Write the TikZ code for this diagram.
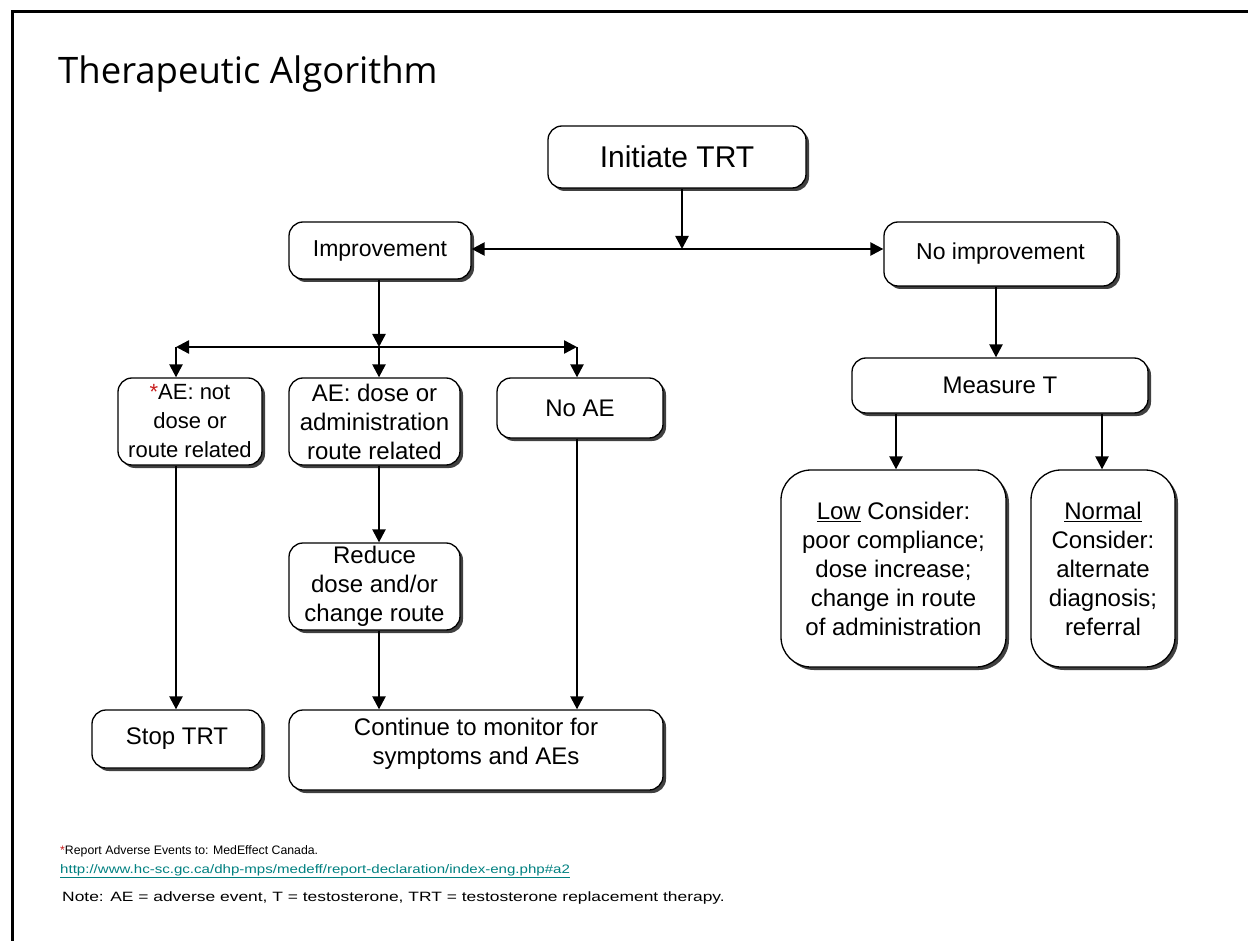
\documentclass[tikz,border=0pt]{standalone}
\usepackage{fontspec}
\setmainfont{Liberation Sans}
\newfontfamily\titlefont{Open Sans}
\usetikzlibrary{arrows.meta,shadows}
\definecolor{urlteal}{RGB}{0,128,128}
\definecolor{astred}{RGB}{200,30,30}
\begin{document}
\begin{tikzpicture}[x=1pt,y=-1pt,
  box/.style={draw, rounded corners=14pt, fill=white, line width=1.3pt,
    drop shadow={shadow xshift=3pt, shadow yshift=-3pt, fill=black, opacity=0.75},
    align=center, inner sep=0pt, font=\fontsize{24}{29}\selectfont},
  bigbox/.style={box, rounded corners=30pt},
  btext/.style={align=center, inner sep=0pt, font=\fontsize{24}{29}\selectfont},
  arr/.style={line width=2.4pt, -{Triangle[length=13pt,width=13pt]}},
  darr/.style={line width=2.4pt, {Triangle[length=13pt,width=13pt]}-{Triangle[length=13pt,width=13pt]}},
  foot/.style={anchor=west, inner sep=0pt, font=\fontsize{12.3}{14}\selectfont}]
\useasboundingbox (0,0) rectangle (1248,941);
\draw[line width=3pt] (12,941) -- (12,12) -- (1248,12);
\node[anchor=west, inner sep=0pt, font=\titlefont\fontsize{36.5}{40}\selectfont] (title) at (58,74) {Therapeutic Algorithm};

\node[box, minimum width=258pt, minimum height=62pt, font=\fontsize{30}{34}\selectfont] (init) at (677,157) {Initiate TRT};
\node[box, minimum width=182pt, minimum height=57pt, font=\fontsize{23}{28}\selectfont] (impr) at (380,250.5) {Improvement};
\node[box, minimum width=233pt, minimum height=64pt, font=\fontsize{23}{28}\selectfont] (noimpr) at (1000.5,254) {No improvement};
\node[box, minimum width=144pt, minimum height=87pt, font=\fontsize{22}{29}\selectfont] (aenot) at (190,421.5) {\textcolor{astred}{*}AE: not\\dose or\\route related};
\node[box, minimum width=171pt, minimum height=87pt] (aedose) at (374.5,421.5) {AE: dose or\\administration\\route related};
\node[box, minimum width=166pt, minimum height=60pt] (noae) at (580,408) {No AE};
\node[box, minimum width=171pt, minimum height=87pt] (reduce) at (374.5,586.5) {Reduce\\dose and/or\\change route};
\node[box, minimum width=170pt, minimum height=58pt] (stop) at (177,739) {Stop TRT};
\node[box, minimum width=374pt, minimum height=80pt] (cont) at (476,750) {};
\node[btext] (conttext) at (476,744) {Continue to monitor for\\symptoms and AEs};
\node[box, minimum width=296pt, minimum height=55pt] (meas) at (1000,385.5) {Measure T};
\node[bigbox, minimum width=225pt, minimum height=197pt] (low) at (893.5,568.5) {\underline{Low} Consider:\\poor compliance;\\dose increase;\\change in route\\of administration};
\node[bigbox, minimum width=144pt, minimum height=197pt] (normal) at (1103,568.5) {\underline{Normal}\\Consider:\\alternate\\diagnosis;\\referral};

\coordinate (j1) at (682,249);
\coordinate (j2) at (379,347);
\coordinate (la) at (176,347);
\coordinate (ra) at (577,347);
\coordinate (mx) at (996,0);
\coordinate (lx) at (896,0);
\coordinate (nx) at (1102,0);

\draw[arr] (init.south -| j1) -- (j1);
\draw[darr] (impr.east |- j1) -- (noimpr.west |- j1);
\draw[arr] (impr.south -| j2) -- (j2);
\draw[darr] (la) -- (ra);
\draw[arr] (j2) -- (aedose.north -| j2);
\draw[arr] (la) -- (aenot.north -| la);
\draw[arr] (ra) -- (noae.north -| ra);
\draw[arr] (aenot.south -| la) -- (stop.north -| la);
\draw[arr] (aedose.south -| j2) -- (reduce.north -| j2);
\draw[arr] (reduce.south -| j2) -- (cont.north -| j2);
\draw[arr] (noae.south -| ra) -- (cont.north -| ra);
\draw[arr] (noimpr.south -| mx) -- (meas.north -| mx);
\draw[arr] (meas.south -| lx) -- (low.north -| lx);
\draw[arr] (meas.south -| nx) -- (normal.north -| nx);

\node[foot] (rep) at (60,851) {\textcolor{astred}{*}Report Adverse Events to: MedEffect Canada.};
\node[foot, text=urlteal] (url) at (60,871) {\scalebox{1.225}[1]{\underline{http://www.hc-sc.gc.ca/dhp-mps/medeff/report-declaration/index-eng.php\#a2}}};
\node[foot, font=\fontsize{13.5}{15}\selectfont] (note) at (62,898) {\scalebox{1.29}[1]{Note: AE = adverse event, T = testosterone, TRT = testosterone replacement therapy.}};
\end{tikzpicture}
\end{document}
